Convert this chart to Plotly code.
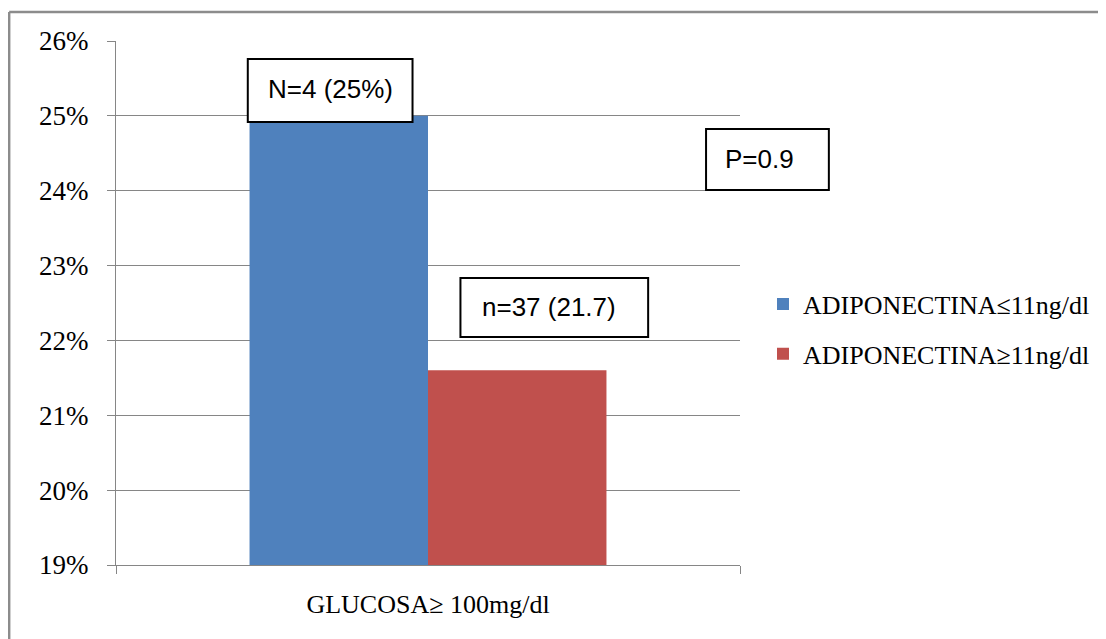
import plotly.graph_objects as go

# ---- data ----
categories = ["GLUCOSA≥ 100mg/dl"]
series_names = ["ADIPONECTINA≤11ng/dl", "ADIPONECTINA≥11ng/dl"]
series_values = [[25.0], [21.6]]
series_colors = ["#4F81BD", "#C0504D"]
y_ticks = [19, 20, 21, 22, 23, 24, 25, 26]
y_tick_labels = ["19%", "20%", "21%", "22%", "23%", "24%", "25%", "26%"]
box_labels = ["N=4 (25%)", "n=37 (21.7)", "P=0.9"]

# page body has an 8px margin, so work in window pixels minus 8
OFF = 8
W, H = 1106 - OFF, 639 - OFF
L, R, T, B = 116 - OFF, 741 - OFF, 41 - OFF, 565 - OFF  # plot area


def px(x):  # window pixel -> paper x
    return (x - OFF - L) / (R - L)


def py(y):  # window pixel -> paper y
    return (B - (y - OFF)) / (B - T)


fig = go.Figure()
for i, name in enumerate(series_names):
    fig.add_trace(go.Bar(
        x=categories, y=series_values[i], name=name,
        marker=dict(color=series_colors[i], line=dict(width=0)),
        legendgroup=f"g{i}",
    ))

serif = "Liberation Serif, Times New Roman, serif"
sans = "Liberation Sans, Arial, sans-serif"

shapes = []
annotations = []
# outer chart border (top + left)
shapes.append(dict(type="line", xref="paper", yref="paper",
                   x0=px(9), x1=px(1110), y0=py(12), y1=py(12),
                   line=dict(color="#8c8c8c", width=2.5)))
shapes.append(dict(type="line", xref="paper", yref="paper",
                   x0=px(9), x1=px(9), y0=py(12), y1=py(645),
                   line=dict(color="#8c8c8c", width=2.5)))

boxes = [
    ((248, 59, 413, 122), (331, 89)),
    ((461, 278, 649, 337), (550, 307)),
    ((707, 129, 830, 190), (761, 159)),
]
for (bx, (tx, ty)), text in zip(boxes, box_labels):
    x0, y0, x1, y1 = bx
    shapes.append(dict(type="rect", xref="paper", yref="paper",
                       x0=px(x0), x1=px(x1), y0=py(y1), y1=py(y0),
                       line=dict(color="black", width=2), fillcolor="white",
                       layer="above"))
    annotations.append(dict(xref="paper", yref="paper", x=px(tx), y=py(ty),
                            text=text, showarrow=False,
                            xanchor="center", yanchor="middle",
                            font=dict(family=sans, size=26, color="black")))

fig.update_layout(
    width=W, height=H,
    margin=dict(l=L, r=W - R, t=T, b=H - B, pad=0),
    paper_bgcolor="white", plot_bgcolor="white",
    barmode="group", bargap=0.428, bargroupgap=0,
    showlegend=True,
    legend=dict(x=px(763), y=py(329), xanchor="left", yanchor="middle",
                font=dict(family=serif, size=26, color="black"),
                traceorder="grouped", tracegroupgap=13,
                bgcolor="rgba(0,0,0,0)", borderwidth=0),
    shapes=shapes,
    annotations=annotations,
    xaxis=dict(showline=True, linecolor="#868686", linewidth=1,
               ticks="outside", tickson="boundaries", ticklen=8,
               tickcolor="#868686", showgrid=False,
               tickfont=dict(family=serif, size=26, color="black"),
               ticklabelstandoff=16),
    yaxis=dict(range=[19, 26], tickvals=y_ticks, ticktext=y_tick_labels,
               showline=True, linecolor="#868686", linewidth=1,
               ticks="outside", ticklen=8, tickcolor="#868686",
               showgrid=True, gridcolor="#868686", gridwidth=1,
               zeroline=False,
               tickfont=dict(family=serif, size=27, color="black"),
               ticklabelstandoff=13),
)

fig.write_html("out.html")
